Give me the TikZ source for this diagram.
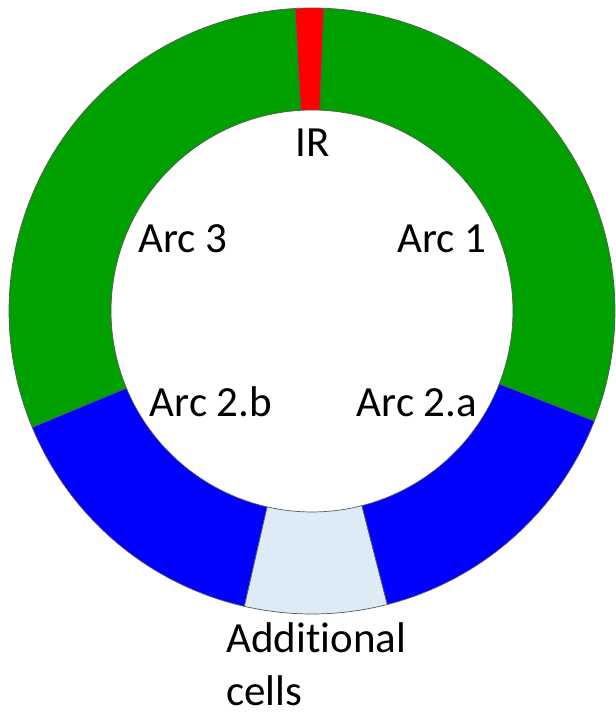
\documentclass[tikz,border=0pt]{standalone}
\usepackage{fontspec}
\setmainfont{Carlito}[Ligatures={NoCommon}]
\definecolor{ringgreen}{RGB}{0,160,0}
\definecolor{ringred}{RGB}{255,0,0}
\definecolor{ringblue}{RGB}{0,0,255}
\definecolor{ringpale}{RGB}{221,235,247}
\tikzset{
  sector/.style={draw=black!65, line width=0.7pt, line join=round},
  lbl/.style={font=\fontsize{43}{54}\selectfont, inner sep=0pt, text=black},
}
\newcommand{\ringsector}[3]{%
  \path[sector, fill=#1] (#2:303) arc[start angle=#2, end angle=#3, radius=303]
    -- (#3:201) arc[start angle=#3, end angle=#2, radius=201] -- cycle;}
\begin{document}
\begin{tikzpicture}[x=1pt, y=1pt]
  \useasboundingbox (0,0) rectangle (616,713);
  \begin{scope}[shift={(312,402)}]
    \ringsector{ringgreen}{-21.3}{87.8}
    \ringsector{ringred}{87.8}{93.2}
    \ringsector{ringgreen}{93.2}{202.6}
    \ringsector{ringblue}{202.6}{257.1}
    \ringsector{ringpale}{257.1}{284.4}
    \ringsector{ringblue}{284.4}{338.7}
  \end{scope}
  \node[lbl, anchor=base] (ir) at (313,556) {IR};
  \node[lbl, anchor=base] (arc3) at (183,460) {Arc 3};
  \node[lbl, anchor=base] (arc1) at (442,460) {Arc 1};
  \node[lbl, anchor=base] (arc2b) at (211,296) {Arc 2.b};
  \node[lbl, anchor=base] (arc2a) at (417,296) {Arc 2.a};
  \node[lbl, anchor=base west, align=left] (addl) at (226,7) {Additional\\cells};
\end{tikzpicture}
\end{document}
